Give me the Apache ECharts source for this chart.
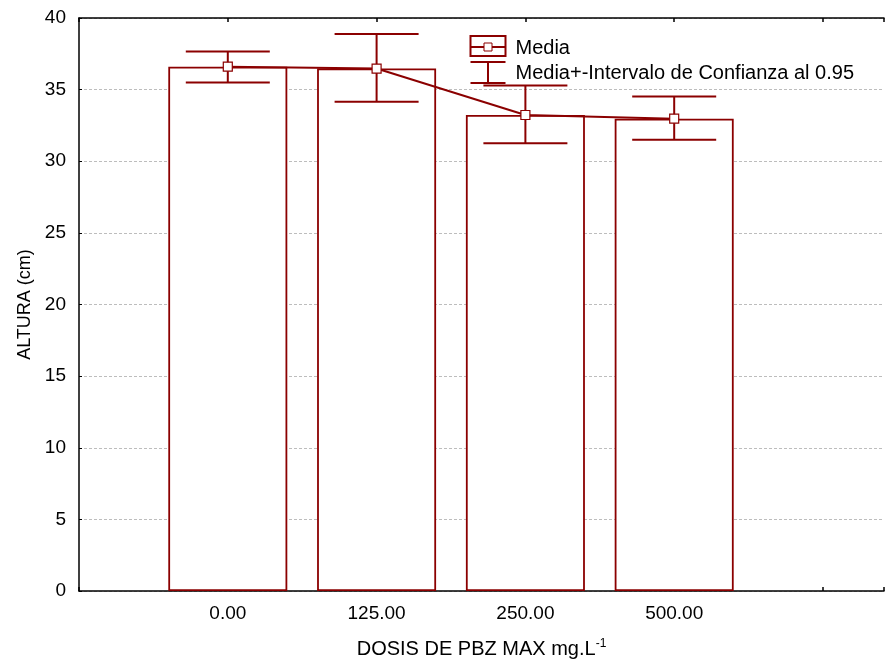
<!DOCTYPE html>
<html><head><meta charset="utf-8">
<script src="https://cdn.jsdelivr.net/npm/echarts@6/dist/echarts.min.js"></script>
<style>html,body{margin:0;padding:0;background:#fff}#c{width:887px;height:664px}</style>
</head><body><div id="c"></div>
<script>
var categories = ['0.00', '125.00', '250.00', '500.00'];
var positions = [1, 2, 3, 4];
var means = [36.6, 36.47, 33.23, 32.97];
var ciUpper = [37.67, 38.89, 35.29, 34.52];
var ciLower = [35.49, 34.15, 31.25, 31.50];
var yTicks = [0, 5, 10, 15, 20, 25, 30, 35, 40];

var RED = '#8B0000';
var FONT = '"Liberation Sans", Arial, sans-serif';

var barData = positions.map(function (p, i) { return [p, means[i]]; });
var errData = positions.map(function (p, i) { return [p, ciLower[i], ciUpper[i]]; });

var chart = echarts.init(document.getElementById('c'), null, {renderer: 'canvas'});
chart.setOption({
  animation: false,
  backgroundColor: '#fff',
  grid: {left: 79, right: 2, top: 18, bottom: 71},
  xAxis: [{
    type: 'value', min: 0, max: 5.41, interval: 1,
    axisLine: {show: true, onZero: false, lineStyle: {color: '#000', width: 1.5}},
    axisTick: {show: true, inside: true, length: 4, lineStyle: {color: '#000', width: 1.5}},
    axisLabel: {
      color: '#000', fontFamily: FONT, fontSize: 19, margin: 13,
      formatter: function (v) { var i = positions.indexOf(v); return i >= 0 ? categories[i] : ''; }
    },
    splitLine: {show: false},
    name: '{a|DOSIS DE PBZ MAX mg.L}{s|-1}',
    nameLocation: 'middle', nameGap: 47,
    nameTextStyle: {
      rich: {
        a: {fontFamily: FONT, fontSize: 20, color: '#000'},
        s: {fontFamily: FONT, fontSize: 12, color: '#000', verticalAlign: 'top', padding: [0, 0, 10, 0]}
      }
    }
  }, {
    type: 'value', position: 'top', min: 0, max: 5.41, interval: 1,
    axisLine: {show: true, onZero: false, lineStyle: {color: '#000', width: 1.5}},
    axisTick: {show: true, inside: true, length: 4, lineStyle: {color: '#000', width: 1.5}},
    axisLabel: {show: false},
    splitLine: {show: false}
  }],
  yAxis: {
    type: 'value', min: yTicks[0], max: yTicks[yTicks.length - 1], interval: 5,
    axisLine: {show: true, onZero: false, lineStyle: {color: '#000', width: 1.5}},
    axisTick: {show: true, inside: true, length: 3, lineStyle: {color: '#000', width: 1}},
    axisLabel: {color: '#000', fontFamily: FONT, fontSize: 19, margin: 13},
    splitLine: {show: true, lineStyle: {color: '#bdbdbd', type: [3, 2], width: 1}},
    name: 'ALTURA (cm)', nameLocation: 'middle', nameGap: 44,
    nameTextStyle: {color: '#000', fontFamily: FONT, fontSize: 18}
  },
  series: [{
    type: 'bar', data: barData, barWidth: 119, z: 2,
    itemStyle: {color: '#fff', borderColor: RED, borderWidth: 1.8}
  }, {
    type: 'custom', z: 3, data: errData,
    renderItem: function (params, api) {
      var x = api.value(0);
      var lo = api.coord([x, api.value(1)]);
      var hi = api.coord([x, api.value(2)]);
      var hw = 42;
      var st = {stroke: RED, lineWidth: 2, fill: null};
      return {type: 'group', children: [
        {type: 'line', shape: {x1: lo[0], y1: lo[1], x2: hi[0], y2: hi[1]}, style: st},
        {type: 'line', shape: {x1: hi[0] - hw, y1: hi[1], x2: hi[0] + hw, y2: hi[1]}, style: st},
        {type: 'line', shape: {x1: lo[0] - hw, y1: lo[1], x2: lo[0] + hw, y2: lo[1]}, style: st}
      ]};
    }
  }, {
    type: 'line', data: barData, z: 4,
    symbol: 'rect', symbolSize: 9, showSymbol: true,
    lineStyle: {color: RED, width: 2},
    itemStyle: {color: '#fff', borderColor: RED, borderWidth: 1.2}
  }],
  graphic: [{
    type: 'group', left: 468, top: 35, z: 10,
    children: [
      {type: 'rect', shape: {x: 0, y: 0, width: 35, height: 20}, style: {fill: '#fff', stroke: RED, lineWidth: 2}},
      {type: 'line', shape: {x1: 0, y1: 11, x2: 35, y2: 11}, style: {stroke: RED, lineWidth: 2}},
      {type: 'rect', shape: {x: 13.5, y: 7, width: 8, height: 8}, style: {fill: '#fff', stroke: RED, lineWidth: 1}},
      {type: 'line', shape: {x1: 0, y1: 26, x2: 35, y2: 26}, style: {stroke: RED, lineWidth: 2}},
      {type: 'line', shape: {x1: 17.5, y1: 26, x2: 17.5, y2: 47}, style: {stroke: RED, lineWidth: 2}},
      {type: 'line', shape: {x1: 0, y1: 47, x2: 35, y2: 47}, style: {stroke: RED, lineWidth: 2}},
      {type: 'text', x: 45, y: 12, style: {text: 'Media', fill: '#000', font: '20px ' + FONT, textVerticalAlign: 'middle'}},
      {type: 'text', x: 45, y: 37, style: {text: 'Media+-Intervalo de Confianza al 0.95', fill: '#000', font: '20px ' + FONT, textVerticalAlign: 'middle'}}
    ]
  }]
});
</script></body></html>
